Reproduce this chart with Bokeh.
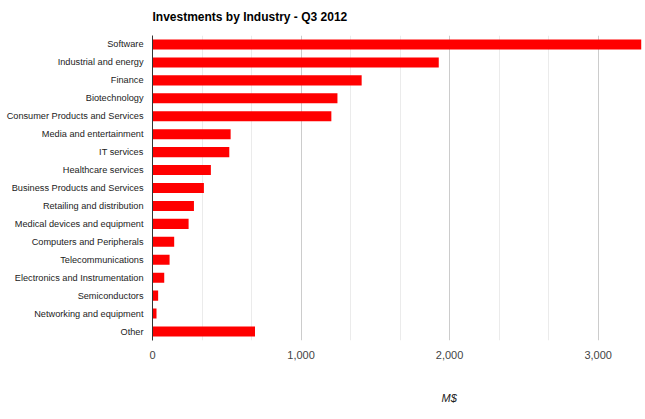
from bokeh.plotting import figure
from bokeh.models import FixedTicker, Title, NumeralTickFormatter, FactorRange, Range1d
from bokeh.embed import file_html
from bokeh.resources import INLINE

industries = ["Software", "Industrial and energy", "Finance", "Biotechnology",
              "Consumer Products and Services", "Media and entertainment", "IT services",
              "Healthcare services", "Business Products and Services",
              "Retailing and distribution", "Medical devices and equipment",
              "Computers and Peripherals", "Telecommunications",
              "Electronics and Instrumentation", "Semiconductors",
              "Networking and equipment", "Other"]
investments = [3290, 1927, 1408, 1245, 1204, 526, 517, 393, 346, 279, 243, 146, 115, 79, 38, 27, 690]
x_ticks = [0, 1000, 2000, 3000]
x_minor_ticks = [333.3, 666.7, 1333.3, 1666.7, 2333.3, 2666.7, 3333.3]
title_text = "Investments by Industry - Q3 2012"
x_label = "M$"

FONT = "Liberation Sans"

p = figure(y_range=FactorRange(*industries[::-1], range_padding=0),
           x_range=Range1d(0, 3312),
           frame_width=492, frame_height=305, output_backend="svg", toolbar_location=None,
           min_border_left=152, min_border_right=0, min_border_top=35, min_border_bottom=68)

p.hbar(y=industries, right=investments, left=0, height=0.56, color="#ff0000", line_color=None)

p.title.text = title_text
p.title.align = "left"
p.title.vertical_align = "top"
p.title.text_font = FONT
p.title.text_font_size = "12px"
p.title.text_font_style = "bold"
p.title.text_color = "#000000"
p.title.text_line_height = 0.5
p.title.offset = 0
p.title.standoff = 19

p.outline_line_color = None
p.background_fill_color = "white"

# x axis
p.xaxis.ticker = FixedTicker(ticks=x_ticks, minor_ticks=x_minor_ticks)
p.xaxis.formatter = NumeralTickFormatter(format="0,0")
p.xaxis.axis_line_color = None
p.xaxis.major_tick_line_color = None
p.xaxis.minor_tick_line_color = None
p.xaxis.major_label_text_font = FONT
p.xaxis.major_label_text_font_size = "11px"
p.xaxis.major_label_text_color = "#444444"
p.xaxis.major_label_standoff = 4

p.xgrid.grid_line_color = "#cccccc"
p.xgrid.minor_grid_line_color = "#ebebeb"
p.ygrid.grid_line_color = None

# y axis
p.yaxis.axis_line_color = "#333333"
p.yaxis.major_tick_line_color = None
p.yaxis.minor_tick_line_color = None
p.yaxis.major_tick_out = 0
p.yaxis.minor_tick_out = 0
p.yaxis.major_label_text_font = FONT
p.yaxis.major_label_text_font_size = "9.2px"
p.yaxis.major_label_text_color = "#222222"
p.yaxis.major_label_standoff = 9

p.add_layout(Title(text=x_label, align="left", offset=289, vertical_align="bottom",
                   text_font=FONT, text_font_size="11px", text_font_style="italic",
                   text_color="#222222", standoff=56), "below")

open("out.html", "w").write(file_html(p, INLINE))
